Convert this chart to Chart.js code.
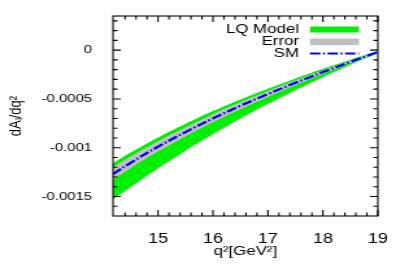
<!DOCTYPE html>
<html>
<head>
<meta charset="utf-8">
<script src="https://cdn.jsdelivr.net/npm/chart.js@4.4.0/dist/chart.umd.min.js"></script>
<style>
  html, body { margin: 0; padding: 0; background: #fff; overflow: hidden; }
</style>
</head>
<body>
<canvas id="chart" width="315" height="273" style="display:block;width:409px;height:273px;"></canvas>
<script>
// values
const q2 = [14.18, 14.5, 15, 15.5, 16, 16.5, 17, 17.5, 18, 18.5, 19];
const smValues = [-0.00127, -0.001155, -0.00099, -0.00084, -0.0007, -0.00057, -0.00045, -0.000335, -0.000225, -0.00012, -0.00002];
const errUpper = [-0.0012, -0.00109, -0.000933, -0.00079, -0.000656, -0.000532, -0.000418, -0.000309, -0.000205, -0.000107, -0.000014];
const errLower = [-0.00133, -0.001211, -0.00104, -0.000885, -0.00074, -0.000605, -0.00048, -0.00036, -0.000245, -0.000133, -0.000026];
const lqUpper = [-0.00116, -0.00105, -0.000895, -0.000755, -0.000625, -0.000505, -0.000395, -0.00029, -0.00019, -0.000098, -0.00001];
const lqLower = [-0.00153, -0.001405, -0.00121, -0.00103, -0.00086, -0.0007, -0.00055, -0.00041, -0.000277, -0.00015, -0.00003];

const xTickValues = [15, 16, 17, 18, 19];
const yTickValues = [0, -0.0005, -0.001, -0.0015];
const yTickLabels = ['0', '-0.0005', '-0.001', '-0.0015'];
const legendLabels = ['LQ Model', 'Error', 'SM'];

// the reference is horizontally stretched, so draw narrow and widen with css
const STRETCH = 409 / 315;
const FAMILY = '"Liberation Sans", Arial, Helvetica, sans-serif';
const FONT = { family: FAMILY, size: 13 };

const GREEN = '#00f000';
const GREY = '#c0c0c0';
const BLUE = '#0000ff';
const SM_DASH = [8, 2, 1.5, 2];

const pts = arr => q2.map((x, i) => ({ x: x, y: arr[i] }));

const framePlugin = {
  id: 'frame',
  afterDatasetsDraw(chart) {
    const { ctx, chartArea: a, scales: { x, y } } = chart;
    ctx.save();
    ctx.strokeStyle = '#000';
    ctx.lineWidth = 1.1;
    ctx.beginPath();
    // x ticks every 0.2, mirrored top
    for (let k = 72; k <= 95; k++) {
      const px = x.getPixelForValue(k / 5);
      const len = k % 5 === 0 ? 6 : 3.5;
      ctx.moveTo(px, a.bottom); ctx.lineTo(px, a.bottom - len);
      ctx.moveTo(px, a.top); ctx.lineTo(px, a.top + len);
    }
    // y ticks every 0.0001, mirrored right
    for (let k = -16; k <= 3; k++) {
      const py = y.getPixelForValue(k * 0.0001);
      const len = k % 5 === 0 ? 6 : 3.5;
      ctx.moveTo(a.left, py); ctx.lineTo(a.left + len, py);
      ctx.moveTo(a.right, py); ctx.lineTo(a.right - len, py);
    }
    ctx.stroke();
    ctx.strokeRect(a.left, a.top, a.right - a.left, a.bottom - a.top);
    ctx.restore();
  }
};

const legendPlugin = {
  id: 'keyBox',
  afterDraw(chart) {
    const ctx = chart.ctx;
    const rows = [29.5, 41.8, 53.5];
    const textX = 299 / STRETCH, x1 = 310 / STRETCH, x2 = 359 / STRETCH;
    const sets = chart.data.datasets;
    ctx.save();
    ctx.font = FONT.size + 'px ' + FONT.family;
    ctx.textAlign = 'right';
    ctx.textBaseline = 'middle';
    ctx.fillStyle = '#000';
    legendLabels.forEach((t, i) => ctx.fillText(t, textX, rows[i]));
    // LQ band and error band samples
    ctx.fillStyle = sets[3].backgroundColor;
    ctx.fillRect(x1, rows[0] - 3, x2 - x1, 6);
    ctx.fillStyle = sets[1].backgroundColor;
    ctx.fillRect(x1, rows[1] - 3.3, x2 - x1, 6.6);
    // SM line sample
    ctx.strokeStyle = sets[0].borderColor;
    ctx.lineWidth = sets[0].borderWidth;
    ctx.setLineDash(sets[0].borderDash);
    ctx.beginPath();
    ctx.moveTo(x1, rows[2]); ctx.lineTo(x2, rows[2]);
    ctx.stroke();
    ctx.restore();
  }
};

const bandSet = (label, arr, color, fill) => ({
  label: label,
  data: pts(arr),
  borderWidth: 0,
  borderColor: 'rgba(0,0,0,0)',
  backgroundColor: color,
  fill: fill,
  pointRadius: 0,
  tension: 0.4
});

new Chart(document.getElementById('chart'), {
  type: 'line',
  data: {
    datasets: [
      {
        label: 'SM',
        data: pts(smValues),
        borderColor: BLUE,
        borderWidth: 2.2,
        borderDash: SM_DASH,
        pointRadius: 0,
        fill: false,
        tension: 0.4
      },
      bandSet('Error', errUpper, GREY, '+1'),
      bandSet('Error low', errLower, GREY, false),
      bandSet('LQ Model', lqUpper, GREEN, '+1'),
      bandSet('LQ Model low', lqLower, GREEN, false)
    ]
  },
  options: {
    responsive: false,
    animation: false,
    devicePixelRatio: 1,
    layout: { padding: { left: 0, right: 24, top: 16, bottom: 0 } },
    plugins: { legend: { display: false }, tooltip: { enabled: false } },
    scales: {
      x: {
        type: 'linear',
        min: 14.18,
        max: 19,
        grid: { display: false },
        border: { display: false },
        afterBuildTicks: s => { s.ticks = xTickValues.map(v => ({ value: v })); },
        afterFit: s => { s.height = 57; },
        ticks: { padding: 6.5, color: '#000', font: { family: FAMILY, size: 14 }, maxRotation: 0, callback: v => String(v) },
        title: { display: true, text: 'q²[GeV²]', color: '#000', font: FONT, padding: { top: 0, bottom: 14 } }
      },
      y: {
        type: 'linear',
        min: -0.0017,
        max: 0.00035,
        grid: { display: false },
        border: { display: false },
        afterBuildTicks: s => { s.ticks = yTickValues.map(v => ({ value: v })); },
        afterFit: s => { s.width = 87; },
        ticks: { padding: 8, color: '#000', font: { family: FAMILY, size: 11.5 }, callback: (v, i) => yTickLabels[i] },
        title: { display: true, text: 'dAₗ/dq²', color: '#000', font: FONT, padding: { top: 4.6, bottom: 0 } }
      }
    }
  },
  plugins: [framePlugin, legendPlugin]
});
</script>
</body>
</html>
